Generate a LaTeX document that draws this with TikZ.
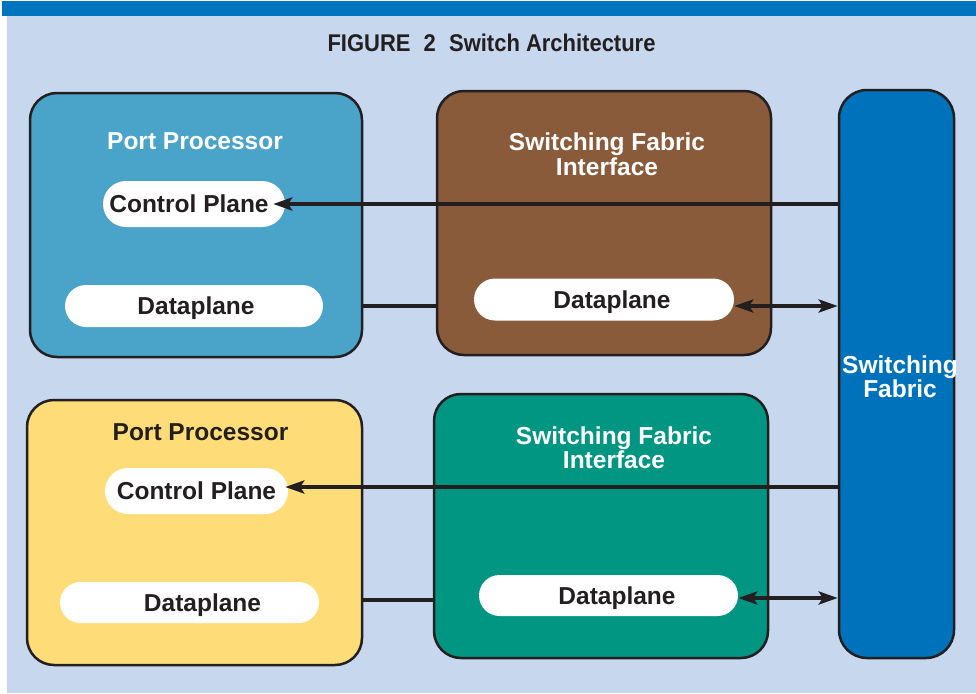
\documentclass[tikz,border=0pt]{standalone}
\usepackage{fontspec}
\setmainfont{Liberation Sans}
\usetikzlibrary{arrows.meta}
\definecolor{bgblue}{RGB}{198,215,238}
\definecolor{barblue}{RGB}{0,117,191}
\definecolor{ppblue}{RGB}{74,163,200}
\definecolor{sfbrown}{RGB}{137,91,58}
\definecolor{ppyellow}{RGB}{254,221,120}
\definecolor{sfteal}{RGB}{0,150,130}
\definecolor{fabblue}{RGB}{0,114,188}
\definecolor{inkdark}{RGB}{35,31,32}
\newcommand{\figfont}{\fontsize{24.5}{26}\selectfont\bfseries}
\begin{document}
\begin{tikzpicture}[x=1pt,y=-1pt,
  bigbox/.style={draw=inkdark, line width=2.5pt, rounded corners=27pt, inner sep=0pt},
  pill/.style={fill=white, inner sep=0pt, text=inkdark, font=\figfont, text height=17.5pt, text depth=0pt},
  lbl/.style={anchor=base, inner sep=0pt, font=\figfont},
  conn/.style={draw=inkdark, line width=4.5pt},
  arr/.style={conn, -{Stealth[length=19pt,width=13pt,inset=4pt]}},
  darr/.style={conn, {Stealth[length=19pt,width=13pt,inset=4pt]}-{Stealth[length=19pt,width=13pt,inset=4pt]}}
]
\useasboundingbox (0,0) rectangle (976,693);
\fill[white] (0,0) rectangle (976,693);
\fill[bgblue] (7,16) rectangle (976,693);
\fill[barblue] (2,1) rectangle (976,16);

% title
\node[anchor=base, inner sep=0pt, text=inkdark] (title) at (491.5,52)
  {\resizebox{328pt}{17.5pt}{\fontsize{24}{24}\selectfont\bfseries FIGURE\hspace{0.6em}2\hspace{0.6em}Switch Architecture}};

% big boxes
\node[bigbox, fill=ppblue, minimum width=332pt, minimum height=264pt] (b1) at (196,225) {};
\node[bigbox, fill=sfbrown, minimum width=334pt, minimum height=264pt] (b2) at (604,223) {};
\node[bigbox, fill=ppyellow, minimum width=335pt, minimum height=265pt] (b3) at (194.5,532.5) {};
\node[bigbox, fill=sfteal, minimum width=334pt, minimum height=264pt] (b4) at (601,526) {};
\node[bigbox, fill=fabblue, rounded corners=28pt, minimum width=115pt, minimum height=568pt] (fab) at (896.5,374) {};

% box titles
\node[lbl, text=white] (pp1) at (195,149) {Port Processor};
\node[lbl, text=white] (sfi1a) at (607,150.5) {Switching Fabric};
\node[lbl, text=white] (sfi1b) at (607,175) {Interface};
\node[lbl, text=inkdark] (pp2) at (200.5,440) {Port Processor};
\node[lbl, text=white] (sfi2a) at (614,444) {Switching Fabric};
\node[lbl, text=white] (sfi2b) at (614,468) {Interface};
\node[lbl, text=white] (sfa) at (900,373) {Switching};
\node[lbl, text=white] (sfb) at (900,397) {Fabric};

% pills
\node[pill, minimum width=182pt, minimum height=46pt, rounded corners=23pt] (cp1) at (194,204) {Control Plane\hspace*{10pt}};
\node[pill, minimum width=258pt, minimum height=42pt, rounded corners=21pt] (dp1) at (194,306) {\hspace*{4pt}Dataplane};
\node[pill, minimum width=260pt, minimum height=42pt, rounded corners=21pt] (dp2) at (604,299.5) {\hspace*{16pt}Dataplane};
\node[pill, minimum width=183pt, minimum height=46pt, rounded corners=23pt] (cp3) at (196.5,491) {Control Plane};
\node[pill, minimum width=259pt, minimum height=41pt, rounded corners=20.5pt] (dp3) at (189.5,602.5) {\hspace*{26pt}Dataplane};
\node[pill, minimum width=259pt, minimum height=41pt, rounded corners=20.5pt] (dp4) at (608.5,595.5) {\hspace*{17pt}Dataplane};

% connector heights
\coordinate (y1) at (0,306);
\coordinate (y2) at (0,306);
\coordinate (y3) at (0,487);
\coordinate (y4) at (0,598);
\coordinate (y5) at (0,600);

% connectors
\draw[arr, shorten >=-12pt] (fab.west |- cp1.east) -- (cp1.east);
\draw[conn] (b1.east |- y1) -- (b2.west |- y1);
\draw[darr] (dp2.east |- y2) -- (fab.west |- y2);
\draw[arr, shorten >=-3pt] (fab.west |- y3) -- (cp3.east |- y3);
\draw[conn] (b3.east |- y5) -- (b4.west |- y5);
\draw[darr] (dp4.east |- y4) -- (fab.west |- y4);
\end{tikzpicture}
\end{document}
